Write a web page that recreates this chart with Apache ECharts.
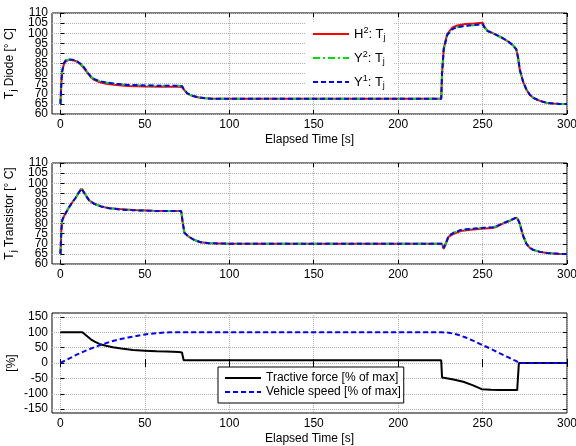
<!DOCTYPE html>
<html>
<head>
    <meta charset="utf-8" />
    <title>Junction temperature</title>
    <script src="https://cdn.jsdelivr.net/npm/echarts@6.0.0/dist/echarts.min.js"></script>
    <style>
        body { margin: 0; background: #fff; }
        #main { width: 576px; height: 446px; }
    </style>
</head>
<body>
    <div id="main"></div>
    <script type="text/javascript">
        // tick labels (y labels split in two sets so that the tight ones are not dropped)
        var timeTicks = [0, 50, 100, 150, 200, 250, 300];
        var tempTicksA = [60, 70, 80, 90, 100, 110];
        var tempTicksB = [65, 75, 85, 95, 105];
        var pctTicksA = [-150, -50, 50, 150];
        var pctTicksB = [-100, 0, 100];

        // diode junction temperature
        var tDiode = [0, 0.5, 1, 2, 3, 5, 8, 10, 12, 14, 16, 18, 20, 23, 27, 33, 40, 50, 60, 70, 72, 73, 75, 78, 82, 86, 90, 100, 150, 200, 225.5, 226, 227, 229, 232, 235, 240, 245, 250, 251, 253, 256, 259, 262, 265, 268, 270, 271, 272, 274, 276, 278, 280, 284, 288, 292, 296, 300];
        var diodeH2 = [65, 75, 81, 84.5, 86, 86.8, 86.5, 85.8, 84.5, 82.6, 80.4, 78.2, 76.9, 75.8, 75, 74.3, 73.9, 73.6, 73.5, 73.5, 73.3, 72.2, 70.2, 69, 68.2, 67.8, 67.6, 67.5, 67.5, 67.5, 67.5, 80, 92.5, 99.5, 102.7, 103.8, 104.5, 104.8, 105.2, 103.3, 101.2, 100, 98.8, 97.5, 96, 94, 92, 88, 82, 76, 72, 69.5, 68, 66.5, 65.5, 65.2, 65, 65];
        var diodeY2 = [65, 75, 81, 85, 86.5, 87, 86.7, 86, 84.8, 83, 80.8, 78.6, 77.3, 76.3, 75.6, 74.9, 74.4, 74.1, 74, 74, 73.8, 72.5, 70.3, 69, 68.2, 67.8, 67.6, 67.5, 67.5, 67.5, 67.5, 80, 92, 99, 102, 103, 103.6, 103.9, 104.4, 103, 101, 100, 98.8, 97.5, 96, 94, 92, 88, 82, 76, 72, 69.5, 68, 66.5, 65.5, 65.2, 65, 65];
        var diodeY1 = [65, 75, 81, 85, 86.5, 87, 86.7, 86, 84.8, 83, 80.8, 78.5, 77.3, 76.3, 75.6, 74.9, 74.4, 74.1, 74, 74, 73.8, 72.5, 70.3, 69, 68.2, 67.8, 67.6, 67.5, 67.5, 67.5, 67.5, 80, 92, 99, 102, 103, 103.7, 104, 104.5, 103, 101, 100, 98.8, 97.5, 96, 94, 92, 88, 82, 76, 72, 69.5, 68, 66.5, 65.5, 65.2, 65, 65];

        // transistor junction temperature
        var tTrans = [0, 0.5, 1, 2, 3, 5, 7, 9, 11, 12.5, 13.5, 15, 17, 20, 24, 29, 35, 43, 55, 65, 71.5, 72.5, 73.5, 76, 79, 83, 88, 95, 120, 150, 200, 226, 227, 228.5, 230, 233, 237, 243, 249, 256, 259, 262, 266, 270, 271, 272, 274, 276, 278, 280, 284, 288, 292, 296, 300];
        var transH2 = [65, 76, 81.5, 83.5, 85, 88, 90.5, 92.8, 95.5, 97.3, 96.5, 94, 91.5, 89.8, 88.5, 87.6, 87.2, 86.7, 86.3, 86.2, 86.2, 80, 75.3, 73.5, 72, 70.8, 70.3, 70.1, 70, 70, 70, 70, 67.5, 70.5, 73.5, 75, 76.3, 77, 77.4, 77.8, 78.7, 80, 81.3, 83, 82, 80, 74, 70, 68, 67, 66, 65.5, 65.2, 65, 65];
        var transY2 = [65, 76, 81.5, 83.5, 85, 88, 90.5, 92.8, 95.5, 97.3, 96.5, 94, 91.5, 89.8, 88.5, 87.6, 87, 86.6, 86.3, 86.2, 86.2, 80, 75.3, 73.5, 72, 70.8, 70.3, 70.1, 70, 70, 70, 70, 68, 71, 74, 75.5, 76.8, 77.4, 77.8, 78.2, 79, 80.2, 81.5, 83, 82, 80, 74, 70, 68, 67, 66, 65.5, 65.2, 65, 65];
        var transY1 = [65, 76, 81.5, 83.5, 85, 88, 90.5, 92.8, 95.5, 97.3, 96.5, 94, 91.5, 89.8, 88.5, 87.6, 87, 86.6, 86.3, 86.2, 86.2, 80, 75.3, 73.5, 72, 70.8, 70.3, 70.1, 70, 70, 70, 70, 68, 71, 74, 75.5, 76.8, 77.4, 77.8, 78.2, 79, 80.2, 81.5, 83, 82, 80, 74, 70, 68, 67, 66, 65.5, 65.2, 65, 65];

        // drive cycle
        var tForce = [0, 13, 14, 16, 18, 20, 23, 27, 31, 36, 43, 50, 57, 63, 70, 72, 72.5, 73, 100, 150, 200, 225.5, 226, 232, 238.6, 244, 249.5, 255, 260, 265, 270.5, 271.5, 275, 300];
        var tractiveForce = [100, 100, 96, 86, 77, 70, 62, 56, 51, 47, 42, 40, 38, 37, 35.5, 34, 20, 9, 9, 9, 9, 9, -47, -53, -61, -72, -85, -87, -88, -88, -88, 0, 0, 0];
        var tSpeed = [0, 5, 10, 15, 20, 25, 30, 35, 40, 45, 50, 55, 60, 65, 70, 73, 100, 150, 200, 225.7, 230, 233, 236.6, 240, 245, 250, 255, 260, 265, 270, 272, 300];
        var vehicleSpeed = [0, 14, 28, 40, 51, 61, 70, 77, 83, 88, 92.5, 96, 98.5, 99.7, 100, 100, 100, 100, 100, 100, 98.5, 95, 90, 83, 71, 58, 46, 32, 19, 6, 0, 0];

        function pairs(t, v) {
            var out = [];
            for (var i = 0; i < t.length; i++) out.push([t[i], v[i]]);
            return out;
        }

        var FONT = 'Liberation Sans';
        var gridLine = { show: true, lineStyle: { color: '#b0b0b0', type: 'dotted', width: 1 } };
        var richName = {
            s: { fontSize: 9, fontFamily: FONT, padding: [7, 0, 0, 0] },
            p: { fontSize: 9, fontFamily: FONT, padding: [0, 0, 7, 0] }
        };

        function xAxisFor(idx, name) {
            return [{
                gridIndex: idx, type: 'value', min: -5, max: 300,
                name: name, nameLocation: 'middle', nameGap: 20,
                nameTextStyle: { color: '#000', fontFamily: FONT, fontSize: 12 },
                axisLine: { show: false },
                axisTick: { show: true, inside: true, length: 4, customValues: timeTicks, lineStyle: { color: '#000' } },
                axisLabel: { color: '#000', fontFamily: FONT, fontSize: 12, margin: 5, customValues: timeTicks,
                             showMinLabel: true, showMaxLabel: true },
                splitLine: gridLine
            }, {
                gridIndex: idx, type: 'value', min: -5, max: 300, position: 'top',
                axisLine: { show: false }, axisLabel: { show: false }, splitLine: { show: false },
                axisTick: { show: true, inside: true, length: 4, customValues: timeTicks, lineStyle: { color: '#000' } }
            }];
        }

        // 3 y axes per panel: labels A + ticks/grid, labels B + ticks/grid, right-side ticks
        function yAxisFor(idx, min, max, ticksA, ticksB, name) {
            var all = ticksA.concat(ticksB);
            function labelAxis(ticks, withName) {
                return {
                    gridIndex: idx, type: 'value', min: min, max: max, position: 'left', offset: 0,
                    name: withName ? name : '', nameLocation: 'middle', nameGap: 34, nameMoveOverlap: false,
                    nameTextStyle: { color: '#000', fontFamily: FONT, fontSize: 12, rich: richName },
                    axisLine: { show: false },
                    axisTick: { show: true, inside: true, length: 4, customValues: ticks, lineStyle: { color: '#000' } },
                    axisLabel: { color: '#000', fontFamily: FONT, fontSize: 12, margin: 4, customValues: ticks,
                                 showMinLabel: true, showMaxLabel: true },
                    splitLine: { show: true, lineStyle: gridLine.lineStyle, customValues: ticks }
                };
            }
            return [labelAxis(ticksA, true), labelAxis(ticksB, false), {
                gridIndex: idx, type: 'value', min: min, max: max, position: 'right',
                axisLine: { show: false }, axisLabel: { show: false }, splitLine: { show: false },
                axisTick: { show: true, inside: true, length: 4, customValues: all, lineStyle: { color: '#000' } }
            }];
        }

        function tempSeries(xi, yi, h2, y2, y1, t) {
            return [
                { name: 'H2', type: 'line', xAxisIndex: xi, yAxisIndex: yi, symbol: 'none', data: pairs(t, h2),
                  lineStyle: { color: '#ff0000', width: 2 }, itemStyle: { color: '#ff0000' } },
                { name: 'Y2', type: 'line', xAxisIndex: xi, yAxisIndex: yi, symbol: 'none', data: pairs(t, y2),
                  lineStyle: { color: '#00e000', width: 2, type: [7, 3, 2, 3] }, itemStyle: { color: '#00e000' } },
                { name: 'Y1', type: 'line', xAxisIndex: xi, yAxisIndex: yi, symbol: 'none', data: pairs(t, y1),
                  lineStyle: { color: '#0000ff', width: 2, type: [5, 3] }, itemStyle: { color: '#0000ff' } }
            ];
        }

        var legendNames = { 'H2': 'H{p|2}: T{s|j}', 'Y2': 'Y{p|2}: T{s|j}', 'Y1': 'Y{p|1}: T{s|j}' };

        var myChart = echarts.init(document.getElementById('main'));
        myChart.setOption({
            animation: false,
            grid: [
                { left: 52, top: 13, width: 515, height: 101, show: true, borderColor: '#000', borderWidth: 1, outerBoundsMode: 'none' },
                { left: 52, top: 163, width: 515, height: 101, show: true, borderColor: '#000', borderWidth: 1, outerBoundsMode: 'none' },
                { left: 52, top: 313, width: 515, height: 100, show: true, borderColor: '#000', borderWidth: 1, outerBoundsMode: 'none' }
            ],
            xAxis: [].concat(xAxisFor(0, 'Elapsed Time [s]'), xAxisFor(1, ''), xAxisFor(2, 'Elapsed Time [s]')),
            yAxis: [].concat(
                yAxisFor(0, 60, 110, tempTicksA, tempTicksB, 'T{s|j} Diode [° C]'),
                yAxisFor(1, 60, 110, tempTicksA, tempTicksB, 'T{s|j} Transistor [° C]'),
                yAxisFor(2, -162.5, 162.5, pctTicksA, pctTicksB, '[%]')
            ),
            legend: [{
                data: ['H2', 'Y2', 'Y1'],
                orient: 'vertical', left: 306, top: 22,
                itemWidth: 36, itemHeight: 10, itemGap: 8,
                backgroundColor: '#fff', padding: [4, 8, 4, 6],
                itemStyle: { opacity: 0 },
                formatter: function (name) { return legendNames[name]; },
                textStyle: { color: '#000', fontFamily: FONT, fontSize: 13, rich: richName }
            }, {
                data: ['Tractive force [% of max]', 'Vehicle speed [% of max]'],
                orient: 'vertical', left: 218, top: 367,
                itemWidth: 36, itemHeight: 10, itemGap: 2,
                backgroundColor: '#fff', borderColor: '#000', borderWidth: 1, borderRadius: 0,
                padding: [5, 3, 5, 6],
                itemStyle: { opacity: 0 },
                textStyle: { color: '#000', fontFamily: FONT, fontSize: 12 }
            }],
            series: [].concat(
                tempSeries(0, 0, diodeH2, diodeY2, diodeY1, tDiode),
                tempSeries(2, 3, transH2, transY2, transY1, tTrans),
                [
                    { name: 'Tractive force [% of max]', type: 'line', xAxisIndex: 4, yAxisIndex: 6, symbol: 'none',
                      data: pairs(tForce, tractiveForce), lineStyle: { color: '#000', width: 2 }, itemStyle: { color: '#000' } },
                    { name: 'Vehicle speed [% of max]', type: 'line', xAxisIndex: 4, yAxisIndex: 6, symbol: 'none',
                      data: pairs(tSpeed, vehicleSpeed), lineStyle: { color: '#0000ff', width: 2, type: [5, 3] }, itemStyle: { color: '#0000ff' } }
                ]
            )
        });
    </script>
</body>
</html>
